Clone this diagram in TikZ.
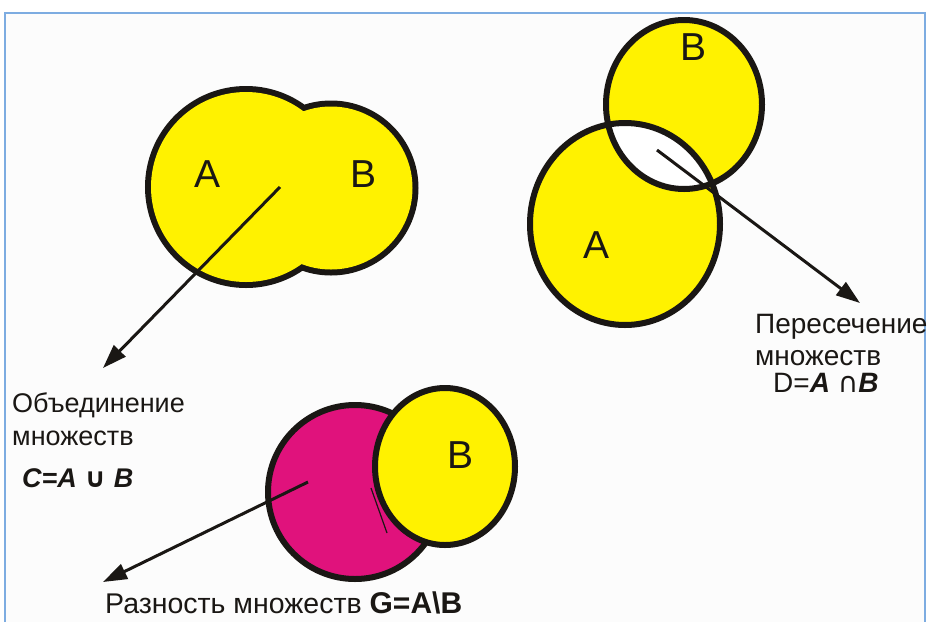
\documentclass[tikz,border=0pt]{standalone}
\usepackage{fontspec}
\setmainfont{Liberation Sans}
\newfontfamily\symf{DejaVu Sans}
\usetikzlibrary{arrows.meta}
\definecolor{vyellow}{RGB}{255,242,0}
\definecolor{vmagenta}{RGB}{224,18,124}
\definecolor{voutline}{RGB}{26,23,20}
\definecolor{vframe}{RGB}{125,172,225}
\definecolor{vbg}{RGB}{252,252,252}
\tikzset{
  setline/.style={draw=voutline, line width=6pt},
  arrowline/.style={draw=voutline, line width=3pt, -{Triangle[length=24pt,width=16pt]}},
  letter/.style={anchor=base, inner sep=0pt, font=\fontsize{39}{46}\selectfont, text=voutline},
  lbl/.style={anchor=base west, inner sep=0pt, font=\fontsize{27}{32}\selectfont, text=voutline},
}
\begin{document}
\begin{tikzpicture}[x=1pt,y=-1pt]
\useasboundingbox (0,0) rectangle (927,622);
\fill[white] (0,0) rectangle (927,622);
\fill[vbg] (5,13) rectangle (925,622);
\draw[vframe, line width=1.5pt] (5,622) -- (5,13) -- (925,13) -- (925,622);

% ---------- Union ----------
\coordinate (uA) at (246,187);
\coordinate (uB) at (331,188);
\draw[voutline, line width=12pt] (uA) circle [radius=95] (uB) circle [radius=81.5];
\fill[vyellow] (uA) circle [radius=95] (uB) circle [radius=81.5];
\node[letter] (uAl) at (208,187) {A};
\node[letter] (uBl) at (364,187) {B};
\coordinate (us) at (280,187);
\coordinate (ut) at (103,368);
\draw[arrowline] (us) -- (ut);
\node[lbl] (ul1) at (12,412) {Объединение};
\node[lbl] (ul2) at (12,445) {множеств};
\node[lbl, font=\fontsize{27}{32}\selectfont\bfseries\itshape] (ul3) at (22,487) {C=A {\symf\bfseries\itshape ∪} B};

% ---------- Intersection ----------
\coordinate (iA) at (625,224);
\coordinate (iB) at (684,104.5);
\fill[vyellow] (iA) ellipse [x radius=95, y radius=101];
\fill[vyellow] (iB) ellipse [x radius=78, y radius=84.5];
\begin{scope}
  \clip (iA) ellipse [x radius=95, y radius=101];
  \fill[white] (iB) ellipse [x radius=78, y radius=84.5];
\end{scope}
\draw[setline] (iA) ellipse [x radius=95, y radius=101];
\draw[setline] (iB) ellipse [x radius=78, y radius=84.5];
\node[letter] (iAl) at (597,258) {A};
\node[letter] (iBl) at (694,60) {B};
\coordinate (is) at (657,150);
\coordinate (it) at (860,303);
\draw[arrowline] (is) -- (it);
\node[lbl, font=\fontsize{28}{32}\selectfont] (il1) at (755,333) {Пересечение};
\node[lbl, font=\fontsize{28}{32}\selectfont] (il2) at (755,365) {множеств};
\node[lbl, font=\fontsize{28}{32}\selectfont] (il3) at (773,392) {D={\bfseries\itshape A} {\symf ∩}{\bfseries\itshape B}};

% ---------- Difference ----------
\coordinate (dA) at (355,492);
\coordinate (dB) at (445,466.5);
\draw[setline, fill=vmagenta] (dA) circle [radius=87];
\draw[voutline, line width=1.2pt] (371,488) -- (387,533);
\draw[setline, fill=vyellow] (dB) ellipse [x radius=70, y radius=78.5];
\node[letter] (dBl) at (461,468) {B};
\coordinate (ds) at (308,482);
\coordinate (dt) at (103,582);
\draw[arrowline] (ds) -- (dt);
\node[lbl, font=\fontsize{28.5}{32}\selectfont] (dl) at (105,613) {Разность множеств {\fontsize{30}{32}\selectfont\bfseries G=A\textbackslash B}};
\end{tikzpicture}
\end{document}
